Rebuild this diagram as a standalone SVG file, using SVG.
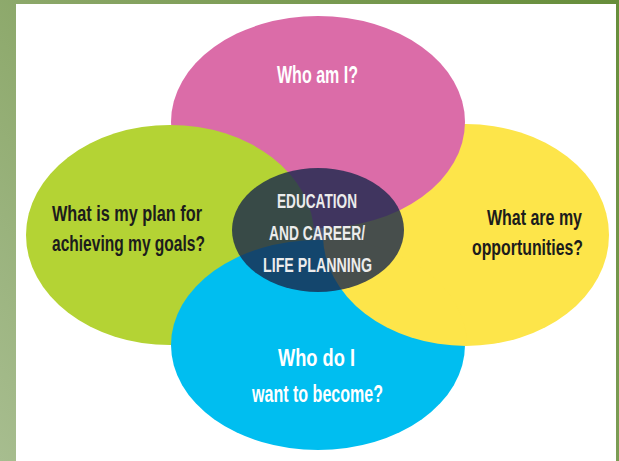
<svg xmlns="http://www.w3.org/2000/svg" xmlns:xlink="http://www.w3.org/1999/xlink" width="619" height="461" viewBox="0 0 619 461">
  <defs>
    <linearGradient id="frame" x1="619" y1="0" x2="0" y2="461" gradientUnits="userSpaceOnUse">
      <stop offset="0" stop-color="#668d3a"/>
      <stop offset="0.55" stop-color="#87a463"/>
      <stop offset="1" stop-color="#a7bd8f"/>
    </linearGradient>
    <ellipse id="yellowShape" cx="466" cy="235" rx="143" ry="111"/>
    <clipPath id="blueClip">
      <ellipse cx="318" cy="345" rx="149" ry="107"/>
    </clipPath>
    <style>
      .q { font-family: "Liberation Sans", Arial, sans-serif; font-weight: bold; }
      .dark { fill: #1c1c1c; font-size: 22px; }
      .light { fill: #ffffff; font-size: 23px; }
      .core { fill: #ececec; font-size: 21px; }
    </style>
  </defs>

  <rect x="0" y="0" width="619" height="461" fill="url(#frame)"/>
  <rect x="16" y="4" width="600" height="457" fill="#ffffff"/>

  <g id="opportunities">
    <use xlink:href="#yellowShape" fill="#fde54a"/>
  </g>
  <g id="who-am-i">
    <ellipse cx="318" cy="122" rx="147" ry="106" fill="#db6ca8"/>
  </g>
  <g id="plan">
    <ellipse cx="170" cy="235" rx="144" ry="110" fill="#b4d334"/>
  </g>
  <g id="become">
    <ellipse cx="318" cy="345" rx="147" ry="105" fill="#00bef0"/>
  </g>
  <g id="opportunities-overlap">
    <use xlink:href="#yellowShape" fill="#fde54a" clip-path="url(#blueClip)"/>
  </g>
  <g id="center">
    <ellipse cx="318" cy="230" rx="86" ry="62" fill="#19284c" fill-opacity="0.8"/>
  </g>

  <g id="labels">
    <text class="q light" x="277" y="83" textLength="81" lengthAdjust="spacingAndGlyphs">Who am I?</text>
    <text class="q dark" x="52" y="221" textLength="150" lengthAdjust="spacingAndGlyphs">What is my plan for</text>
    <text class="q dark" x="52" y="251" textLength="153" lengthAdjust="spacingAndGlyphs">achieving my goals?</text>
    <text class="q dark" x="487" y="225" textLength="95" lengthAdjust="spacingAndGlyphs">What are my</text>
    <text class="q dark" x="472" y="255" textLength="111" lengthAdjust="spacingAndGlyphs">opportunities?</text>
    <text class="q core" x="277" y="208" textLength="80" lengthAdjust="spacingAndGlyphs">EDUCATION</text>
    <text class="q core" x="269" y="240" textLength="96" lengthAdjust="spacingAndGlyphs">AND CAREER/</text>
    <text class="q core" x="263" y="272" textLength="109" lengthAdjust="spacingAndGlyphs">LIFE PLANNING</text>
    <text class="q light" x="278" y="366" textLength="77" lengthAdjust="spacingAndGlyphs">Who do I</text>
    <text class="q light" x="252" y="402" textLength="131" lengthAdjust="spacingAndGlyphs">want to become?</text>
  </g>
</svg>
